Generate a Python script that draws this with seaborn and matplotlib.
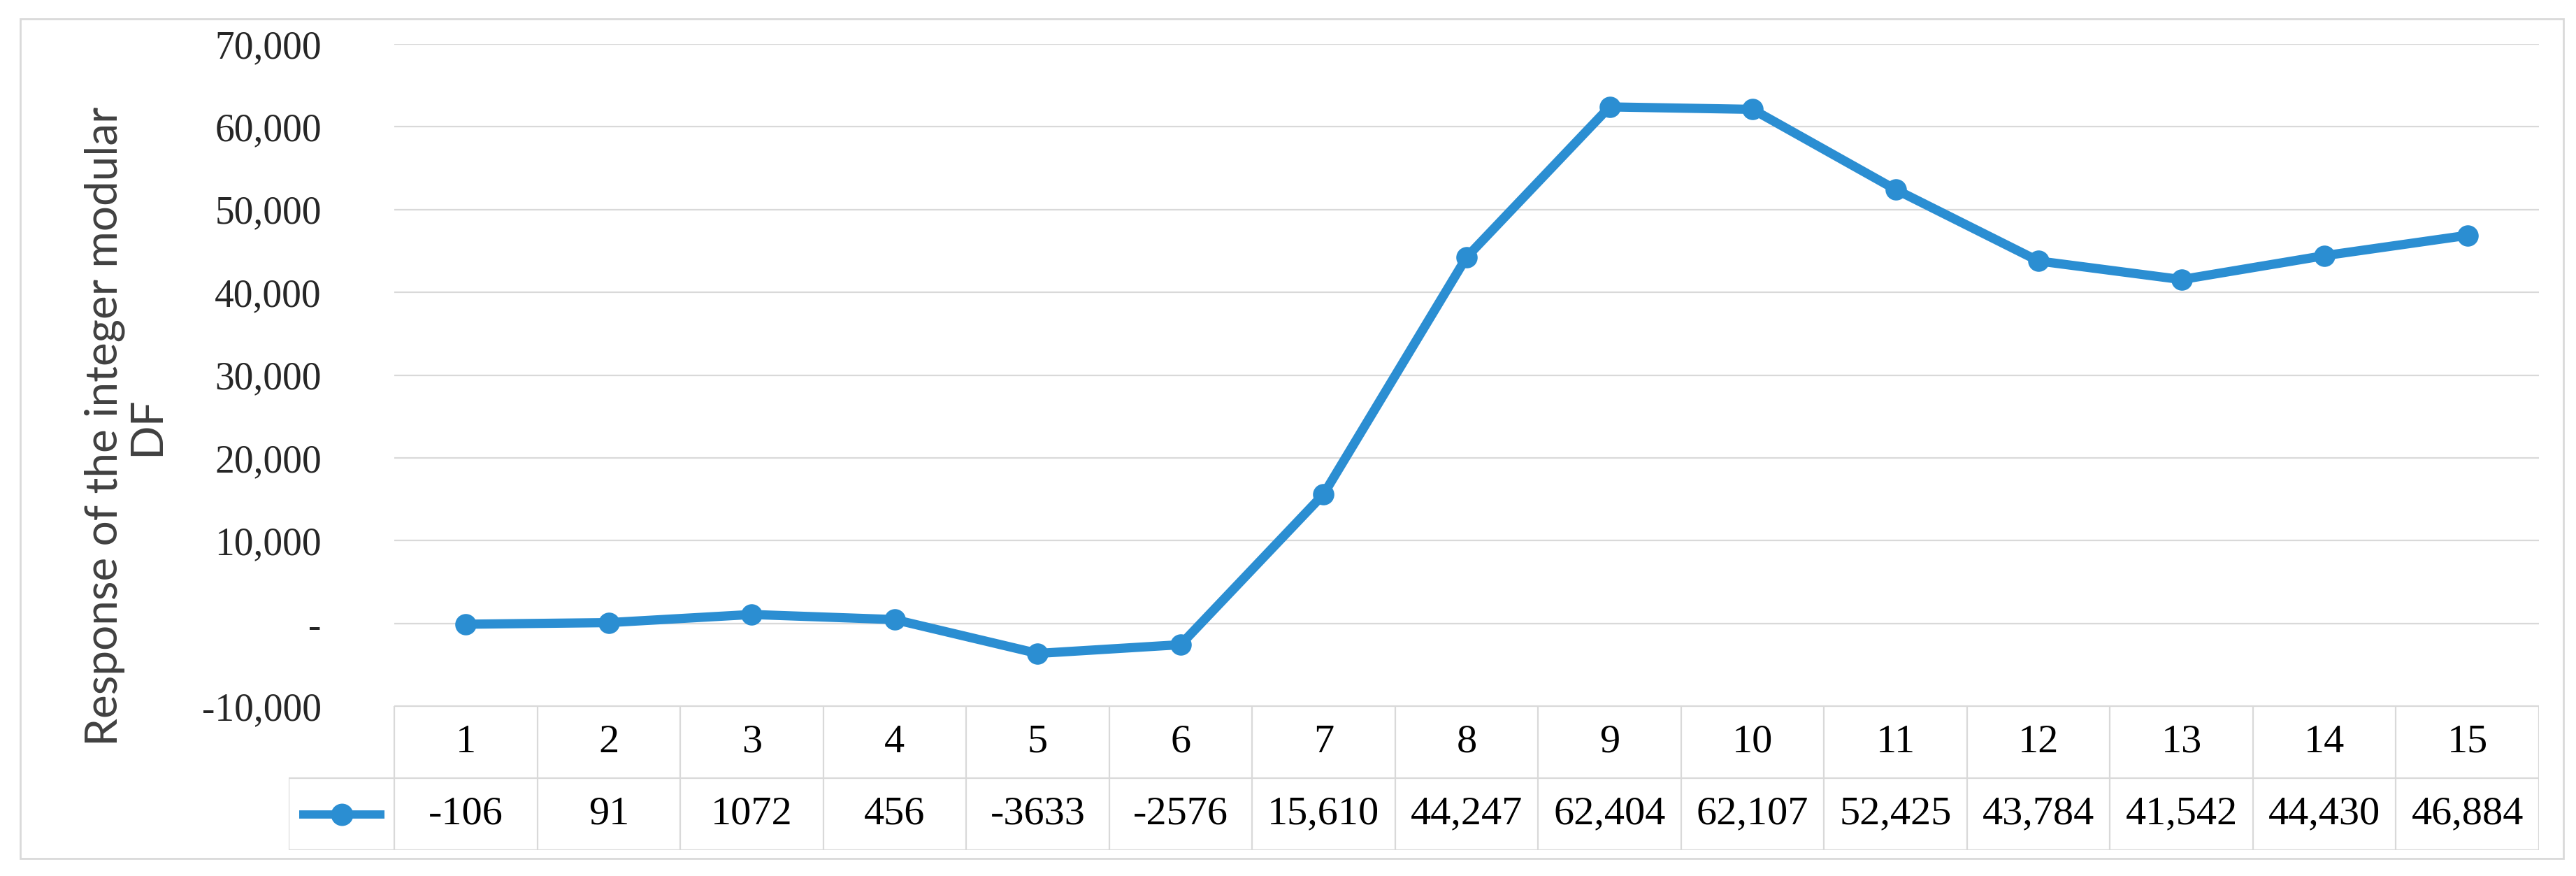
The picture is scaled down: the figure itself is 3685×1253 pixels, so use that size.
import numpy as np
import pandas as pd
import seaborn as sns
import matplotlib.pyplot as plt
from matplotlib.patches import Rectangle
from matplotlib.ticker import FuncFormatter

# data (data table row)
runs = list(range(1, 16))
response = [-106, 91, 1072, 456, -3633, -2576, 15610, 44247, 62404,
            62107, 52425, 43784, 41542, 44430, 46884]
y_ticks = list(range(-10000, 70001, 10000))
y_label = "Response of the integer modular\nDF"

W, H = 3685, 1253
LINE = "#2B8ED2"
GRID = "#D9D9D9"
TXT = "#262626"
SERIF = "Liberation Serif"

sns.set_theme(style="white")
plt.rcParams["font.family"] = [SERIF, "DejaVu Serif"]

fig = plt.figure(figsize=(W / 100, H / 100), dpi=100)

# plot area in pixel coords
left, right, top, bottom = 564, 3632, 63, 1010
tab_left, tab_bottom = 413, 1216

ax = fig.add_axes([left / W, 1 - bottom / H, (right - left) / W, (bottom - top) / H])
df = pd.DataFrame({"pos": np.arange(len(runs)), "response": response})
sns.lineplot(data=df, x="pos", y="response", ax=ax, color=LINE, linewidth=9.5,
             marker="o", markersize=22, markeredgecolor=LINE, markeredgewidth=0)
ax.set_xlim(-0.5, len(runs) - 0.5)
ax.set_ylim(y_ticks[0], y_ticks[-1])
ax.set_yticks(y_ticks)
ax.yaxis.set_major_formatter(FuncFormatter(lambda v, p: "-" if v == 0 else f"{v:,.0f}"))
ax.set_xticks([])
ax.set_xlabel("")
ax.set_ylabel("")
ax.tick_params(axis="y", labelsize=40, colors=TXT, pad=75, length=0)
ax.grid(axis="y", color=GRID, linewidth=1.6)
ax.grid(axis="x", visible=False)
for s in ax.spines.values():
    s.set_visible(False)
ax.set_axisbelow(True)

# data table below the plot
col_w = (right - left) / len(runs)
leg_w = (left - tab_left) / col_w
axt = fig.add_axes([tab_left / W, 1 - tab_bottom / H, (right - tab_left) / W, (tab_bottom - bottom) / H])
axt.set_xlim(-0.5 - leg_w, len(runs) - 0.5)
axt.set_ylim(0, 2)
axt.axis("off")
lw = 1.6
axt.plot([-0.5, len(runs) - 0.5], [2, 2], color=GRID, lw=lw)
axt.plot([-0.5 - leg_w, len(runs) - 0.5], [1, 1], color=GRID, lw=lw)
axt.plot([-0.5 - leg_w, len(runs) - 0.5], [0, 0], color=GRID, lw=lw)
axt.plot([-0.5 - leg_w, -0.5 - leg_w], [0, 1], color=GRID, lw=lw)
for i in range(len(runs) + 1):
    axt.plot([i - 0.5, i - 0.5], [0, 2], color=GRID, lw=lw)

for i, (r, v) in enumerate(zip(runs, response)):
    axt.text(i, 1.5, str(r), ha="center", va="center", fontsize=42, color="black")
    lab = f"{v:,}" if abs(v) >= 10000 else str(v)
    axt.text(i, 0.5, lab, ha="center", va="center", fontsize=42, color="black")

# legend key in first cell
cx = -0.5 - leg_w / 2
half = 61 / col_w
axt.plot([cx - half, cx + half], [0.5, 0.5], color=LINE, lw=8.5, solid_capstyle="butt")
axt.plot([cx], [0.5], marker="o", color=LINE, markersize=23, markeredgewidth=0)

fig.text(180 / W, 1 - 610 / H, y_label, rotation=90, ha="center", va="center",
         multialignment="center", fontsize=46, color="#404040", linespacing=1.05,
         family=["Lato", "DejaVu Sans"])

# outer chart border
fig.patches.append(Rectangle((29 / W, 1 - 1228 / H), (3667 - 29) / W, (1228 - 27) / H,
                             transform=fig.transFigure, fill=False,
                             edgecolor=GRID, linewidth=2))

fig.savefig("out.png", dpi=100, facecolor="white")
